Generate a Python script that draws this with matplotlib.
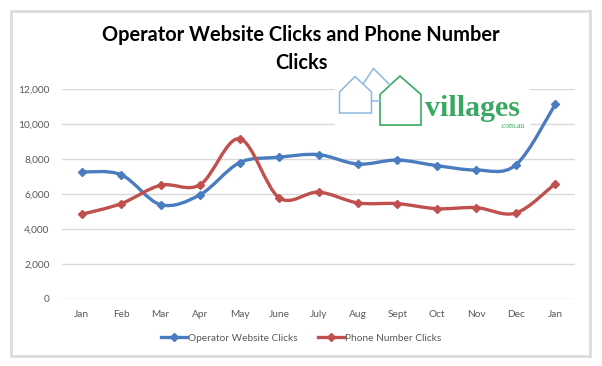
import numpy as np
import matplotlib
matplotlib.use("Agg")
import matplotlib.pyplot as plt
from matplotlib.path import Path
from matplotlib.patches import PathPatch, Rectangle, Polygon
from matplotlib.lines import Line2D

months = ["Jan", "Feb", "Mar", "Apr", "May", "June", "July", "Aug", "Sept",
          "Oct", "Nov", "Dec", "Jan"]
website_clicks = [7260, 7100, 5390, 5960, 7790, 8100, 8250, 7710, 7940,
                  7620, 7370, 7660, 11120]
phone_clicks = [4840, 5450, 6500, 6530, 9160, 5790, 6110, 5490, 5450,
                5160, 5220, 4910, 6590]
series_names = ["Operator Website Clicks", "Phone Number Clicks"]
colors = ["#4a7cc0", "#c0504d"]
title = "Operator Website Clicks and Phone Number\nClicks"
yticks = [0, 2000, 4000, 6000, 8000, 10000, 12000]

plt.rcParams['font.family'] = ['Lato', 'DejaVu Sans']

W, H = 602, 366
fig = plt.figure(figsize=(W / 100, H / 100), dpi=100)
fig.patch.set_facecolor("white")

# frame overlay in pixel coords
bg = fig.add_axes([0, 0, 1, 1], zorder=0)
bg.set_xlim(0, W)
bg.set_ylim(H, 0)
bg.axis("off")
bg.add_patch(Rectangle((11, 11), 579, 345, fill=False, edgecolor="#dcdcdc",
                       linewidth=2.0))

ax = fig.add_axes([62 / W, 1 - 299 / H, (575 - 62) / W, (299 - 89) / H], zorder=1)
ax.set_facecolor("none")


def smooth_path(xs, ys):
    pts = np.column_stack([xs, ys]).astype(float)
    n = len(pts)
    verts = [pts[0]]
    codes = [Path.MOVETO]
    for i in range(n - 1):
        p0 = pts[i - 1] if i > 0 else pts[i]
        p1 = pts[i]
        p2 = pts[i + 1]
        p3 = pts[i + 2] if i + 2 < n else pts[i + 1]
        c1 = p1 + (p2 - p0) / 6.0
        c2 = p2 - (p3 - p1) / 6.0
        verts += [c1, c2, p2]
        codes += [Path.CURVE4] * 3
    return Path(verts, codes)


x = np.arange(len(months))
handles = []
for vals, col, name in zip([website_clicks, phone_clicks], colors, series_names):
    ax.add_patch(PathPatch(smooth_path(x, vals), fill=False, edgecolor=col,
                           linewidth=2.4, capstyle="round", joinstyle="round",
                           zorder=3))
    ax.plot(x, vals, linestyle="none", marker="D", markersize=4.2, color=col,
            zorder=4)
    handles.append(Line2D([0], [0], color=col, linewidth=2.4, marker="D",
                          markersize=4.2, label=name))

ax.set_xlim(-0.5, len(months) - 0.5)
ax.set_ylim(0, 12000)
ax.set_yticks(yticks)
ax.set_yticklabels([f"{v:,}" for v in yticks])
ax.set_xticks(x)
ax.set_xticklabels(months)
ax.grid(axis="y", color="#d9d9d9", linewidth=1.0)
ax.set_axisbelow(True)
for s in ax.spines.values():
    s.set_visible(False)
ax.tick_params(axis="both", length=0, labelsize=7.3, labelcolor="#595959")
ax.tick_params(axis="y", pad=9)
ax.tick_params(axis="x", pad=8)

fig.text(0.5, 1 - 49 / H, title, ha="center", va="center", fontsize=14.4,
         fontweight="bold", color="black", linespacing=1.45)

leg = fig.legend(handles=handles, loc="center", bbox_to_anchor=(0.5, 1 - 338 / H),
                 ncol=2, frameon=False, fontsize=7.3, handlelength=2.6,
                 handletextpad=0.1, columnspacing=2.0, labelcolor="#595959")

# logo overlay
lg = fig.add_axes([0, 0, 1, 1], zorder=2)
lg.set_xlim(0, W)
lg.set_ylim(H, 0)
lg.axis("off")
lg.add_patch(Rectangle((335, 66), 195, 64, facecolor="white", edgecolor="none"))
blue_c = "#8db8e0"
green_c = "#3aa862"
lg.add_patch(Polygon([(339.5, 113), (339.5, 92), (355, 76.5), (371.5, 92), (371.5, 113)],
                     closed=True, fill=False, edgecolor=blue_c, linewidth=1.1))
lg.plot([363, 373.5, 390], [84, 68.5, 85], color=blue_c, linewidth=1.1)
lg.plot([371.5, 380], [100.7, 100.7], color=blue_c, linewidth=1.1)
lg.add_patch(Polygon([(380, 125), (380, 94.5), (400, 76), (421, 94.5), (421, 125)],
                     closed=True, fill=False, edgecolor=green_c, linewidth=1.2))
lg.text(425, 116, "villages", fontsize=21.5, fontweight="bold", color=green_c,
        family="Liberation Serif", ha="left", va="baseline")
lg.text(525, 128.5, ".com.au", fontsize=5.5, color=green_c,
        family="Liberation Serif", ha="right", va="baseline")

fig.savefig("out.png", dpi=100, facecolor="white")
